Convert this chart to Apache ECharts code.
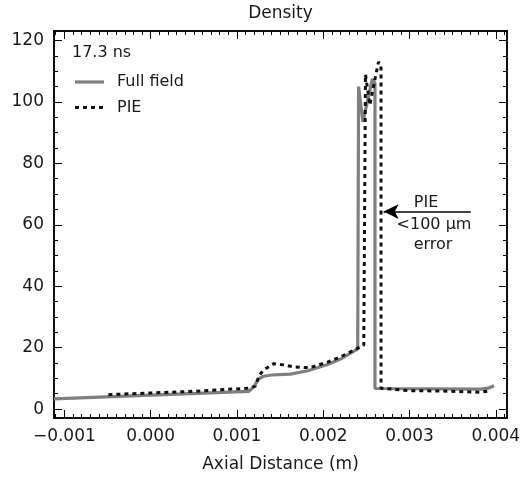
<!DOCTYPE html>
<html>
<head>
<meta charset="utf-8">
<script src="https://cdn.jsdelivr.net/npm/echarts@6/dist/echarts.min.js"></script>
<style>
html,body{margin:0;padding:0;background:#fff;}
#chart{width:525px;height:483px;}
</style>
</head>
<body>
<div id="chart"></div>
<script>
// ---- data (x in metres, density) ----
const fullX = [-0.00112, 0.00114, 0.00120, 0.00125, 0.00131, 0.00140, 0.00162, 0.00182, 0.00205, 0.00220, 0.00240, 0.00241, 0.00241, 0.00246, 0.00257, 0.00260, 0.00260, 0.00383, 0.00391, 0.00398];
const fullY = [3.3, 5.8, 7.4, 9.8, 10.7, 11.1, 11.4, 12.5, 14.5, 16.3, 19.6, 20.0, 105, 93.5, 107.5, 106, 6.7, 6.5, 6.8, 7.6];
const pieX = [-0.00049, 0.00050, 0.00113, 0.00121, 0.00126, 0.00131, 0.00143, 0.00154, 0.00166, 0.00185, 0.00205, 0.00220, 0.00247, 0.00249, 0.00249, 0.00254, 0.00264, 0.00267, 0.00267, 0.00300, 0.00336, 0.00383, 0.00394];
const pieY = [4.7, 5.8, 6.8, 7.4, 11.0, 12.8, 14.8, 14.4, 13.7, 13.5, 15.3, 17.0, 20.8, 20.5, 109, 99, 113, 112, 6.8, 6.0, 5.9, 5.5, 6.0];
const seriesNames = ['Full field', 'PIE'];
const xMajor = [-0.001, 0.000, 0.001, 0.002, 0.003, 0.004];
const yMajor = [0, 20, 40, 60, 80, 100, 120];
const xRange = [-0.00112, 0.00413];
const yRange = [-2.9, 123.1];
const arrowFrom = [0.00371, 64.3];
const arrowTo = [0.00270, 64.3];
const timeLabel = '17.3 ns';
const chartTitle = 'Density';
const xTitle = 'Axial Distance (m)';
const noteLines = ['PIE', '<100 μm', 'error'];

// minor tick values
const xMinor = [];
for (let i = -11; i <= 41; i++) { if (i % 10 !== 0) xMinor.push(i / 10000); }
const yMinor = [];
for (let v = 0; v <= 120; v += 5) { if (v % 20 !== 0) yMinor.push(v); }

const FONT = '"DejaVu Sans", sans-serif';
const TXT = '#1a1a1a';
const GRAY = '#7f7f7f';
const DOT = '#111';

function xAx(pos, ticks, len, labels) {
  return {
    type: 'value', position: pos, min: xRange[0], max: xRange[1],
    gridIndex: 0,
    axisLine: { show: true, onZero: false, lineStyle: { color: '#000', width: 1.5 } },
    axisTick: { show: true, inside: true, length: len, customValues: ticks, lineStyle: { color: '#000', width: 1 } },
    axisLabel: labels ? {
      show: true, customValues: ticks, margin: 10, fontSize: 17, fontFamily: FONT, color: TXT,
      formatter: v => (v < 0 ? '\u2212' : '') + Math.abs(v).toFixed(3)
    } : { show: false },
    splitLine: { show: false },
    name: labels ? xTitle : '', nameLocation: 'middle', nameGap: 38,
    nameTextStyle: { fontSize: 17, fontFamily: FONT, color: TXT }
  };
}
function yAx(pos, ticks, len, labels) {
  return {
    type: 'value', position: pos, min: yRange[0], max: yRange[1],
    gridIndex: 0,
    axisLine: { show: true, onZero: false, lineStyle: { color: '#000', width: 1.5 } },
    axisTick: { show: true, inside: true, length: len, customValues: ticks, lineStyle: { color: '#000', width: 1 } },
    axisLabel: labels ? {
      show: true, customValues: ticks, margin: 10, fontSize: 17, fontFamily: FONT, color: TXT
    } : { show: false },
    splitLine: { show: false }
  };
}
function txt(x, y, s, size, align) {
  return { type: 'text', x: x, y: y, z: 10, style: { text: s, font: size + 'px ' + FONT, fill: TXT, align: align || 'center', verticalAlign: 'middle' } };
}

const chart = echarts.init(document.getElementById('chart'), null, { renderer: 'canvas' });
chart.setOption({
  animation: false,
  backgroundColor: '#fff',
  grid: { left: 54, top: 31, width: 453, height: 387, containLabel: false },
  xAxis: [
    xAx('bottom', xMajor, 8, true),
    xAx('bottom', xMinor, 4, false),
    xAx('top', xMajor, 8, false),
    xAx('top', xMinor, 4, false)
  ],
  yAxis: [
    yAx('left', yMajor, 8, true),
    yAx('left', yMinor, 4, false),
    yAx('right', yMajor, 8, false),
    yAx('right', yMinor, 4, false)
  ],
  graphic: [
    txt(280.5, 14, chartTitle, 17),
    txt(72, 53, timeLabel, 16, 'left'),
    { type: 'line', z: 10, shape: { x1: 75, y1: 82, x2: 104, y2: 82 }, style: { stroke: GRAY, lineWidth: 3.2 } },
    txt(117, 82, seriesNames[0], 16, 'left'),
    { type: 'line', z: 10, shape: { x1: 75, y1: 107.5, x2: 104, y2: 107.5 }, style: { stroke: DOT, lineWidth: 3, lineDash: [4, 4], lineCap: 'butt' } },
    txt(117, 107.5, seriesNames[1], 16, 'left'),
    txt(426, 203, noteLines[0], 16),
    txt(434, 225, noteLines[1], 16),
    txt(433, 245, noteLines[2], 16)
  ],
  series: [
    {
      name: seriesNames[0], type: 'line', xAxisIndex: 0, yAxisIndex: 0,
      data: fullX.map((x, i) => [x, fullY[i]]),
      symbol: 'none', showSymbol: false, smooth: false,
      lineStyle: { color: GRAY, width: 3.2, join: 'bevel' },
      itemStyle: { color: GRAY },
      z: 2
    },
    {
      name: seriesNames[1], type: 'line', xAxisIndex: 0, yAxisIndex: 0,
      data: pieX.map((x, i) => [x, pieY[i]]),
      symbol: 'none', showSymbol: false, smooth: false,
      lineStyle: { color: DOT, width: 3, type: [4, 4], cap: 'butt', join: 'bevel' },
      itemStyle: { color: DOT },
      z: 3,
      markLine: {
        silent: true, animation: false,
        symbol: ['none', 'arrow'], symbolSize: [11, 15],
        lineStyle: { color: '#000', width: 1.5, type: 'solid' },
        label: { show: false },
        emphasis: { disabled: true },
        data: [[{ coord: arrowFrom }, { coord: arrowTo }]]
      }
    }
  ]
});
</script>
</body>
</html>
